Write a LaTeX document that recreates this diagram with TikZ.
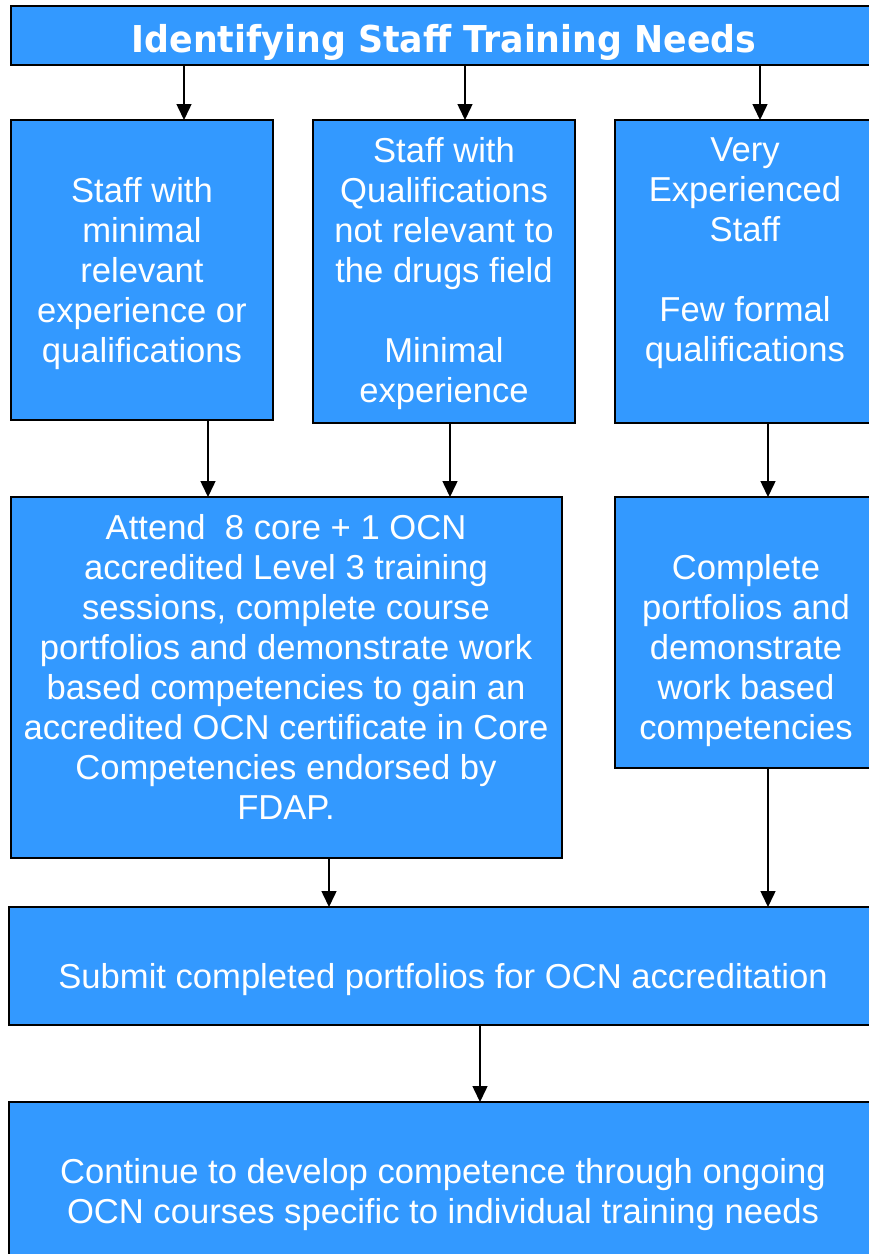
\documentclass[tikz,border=0pt]{standalone}
\usepackage{fontspec}
\setmainfont{Liberation Sans}
\newfontfamily\titlefont{DejaVu Sans}[FakeStretch=0.94]
\usetikzlibrary{arrows.meta}
\definecolor{boxblue}{RGB}{51,153,255}
\begin{document}
\begin{tikzpicture}[x=1pt,y=-1pt,
  box/.style={draw=black, line width=1.5pt, fill=boxblue, anchor=north west, inner sep=0pt, outer sep=0pt},
  txt/.style={text=white, font=\fontsize{34.6}{40}\selectfont, align=center, anchor=north, inner sep=0pt},
  ttl/.style={text=white, font=\titlefont\bfseries\fontsize{37}{40}\selectfont, anchor=base, inner sep=0pt},
  arr/.style={line width=1.5pt, -{Triangle[length=16pt,width=15pt]}}]
\useasboundingbox (0,0) rectangle (869,1254);
\clip (0,0) rectangle (869,1254);
% boxes
\node[box, minimum width=866pt, minimum height=59pt] (T) at (11,6) {};
\node[box, minimum width=262pt, minimum height=300pt] (A) at (11,120) {};
\node[box, minimum width=262pt, minimum height=303pt] (B) at (313,120) {};
\node[box, minimum width=262pt, minimum height=303pt] (C) at (615,120) {};
\node[box, minimum width=551pt, minimum height=361pt] (D) at (11,497) {};
\node[box, minimum width=262pt, minimum height=271pt] (E) at (615,497) {};
\node[box, minimum width=868pt, minimum height=118pt] (F) at (9,907) {};
\node[box, minimum width=868pt, minimum height=170pt] (G) at (9,1102) {};
% texts
\node[ttl] (Tt) at (444,52) {Identifying Staff Training Needs};
\node[txt] (At) at (142,177) {Staff with\\minimal\\relevant\\experience or\\qualifications};
\node[txt] (Bt) at (444,137) {Staff with\\Qualifications\\not relevant to\\the drugs field\\[40pt]Minimal\\experience};
\node[txt] (Ct) at (745,137) {Very\\Experienced\\Staff\\[40pt]Few formal\\qualifications};
\node[txt] (Dt) at (286,514) {Attend\ \ 8 core + 1 OCN\\accredited Level 3 training\\sessions, complete course\\portfolios and demonstrate work\\based competencies to gain an\\accredited OCN certificate in Core\\Competencies endorsed by\\FDAP.};
\node[txt] (Et) at (746,554) {Complete\\portfolios and\\demonstrate\\work based\\competencies};
\node[txt] (Ft) at (443,963) {Submit completed portfolios for OCN accreditation};
\node[txt] (Gt) at (443,1158) {Continue to develop competence through ongoing\\OCN courses specific to individual training needs};
% connectors
\draw[arr] (T.south -| 184,0) -- (A.north -| 184,0);
\draw[arr] (T.south -| 465,0) -- (B.north -| 465,0);
\draw[arr] (T.south -| 760,0) -- (C.north -| 760,0);
\draw[arr] (A.south -| 208,0) -- (D.north -| 208,0);
\draw[arr] (B.south -| 450,0) -- (D.north -| 450,0);
\draw[arr] (C.south -| 768,0) -- (E.north -| 768,0);
\draw[arr] (D.south -| 329,0) -- (F.north -| 329,0);
\draw[arr] (E.south -| 768,0) -- (F.north -| 768,0);
\draw[arr] (F.south -| 480,0) -- (G.north -| 480,0);
\end{tikzpicture}
\end{document}
